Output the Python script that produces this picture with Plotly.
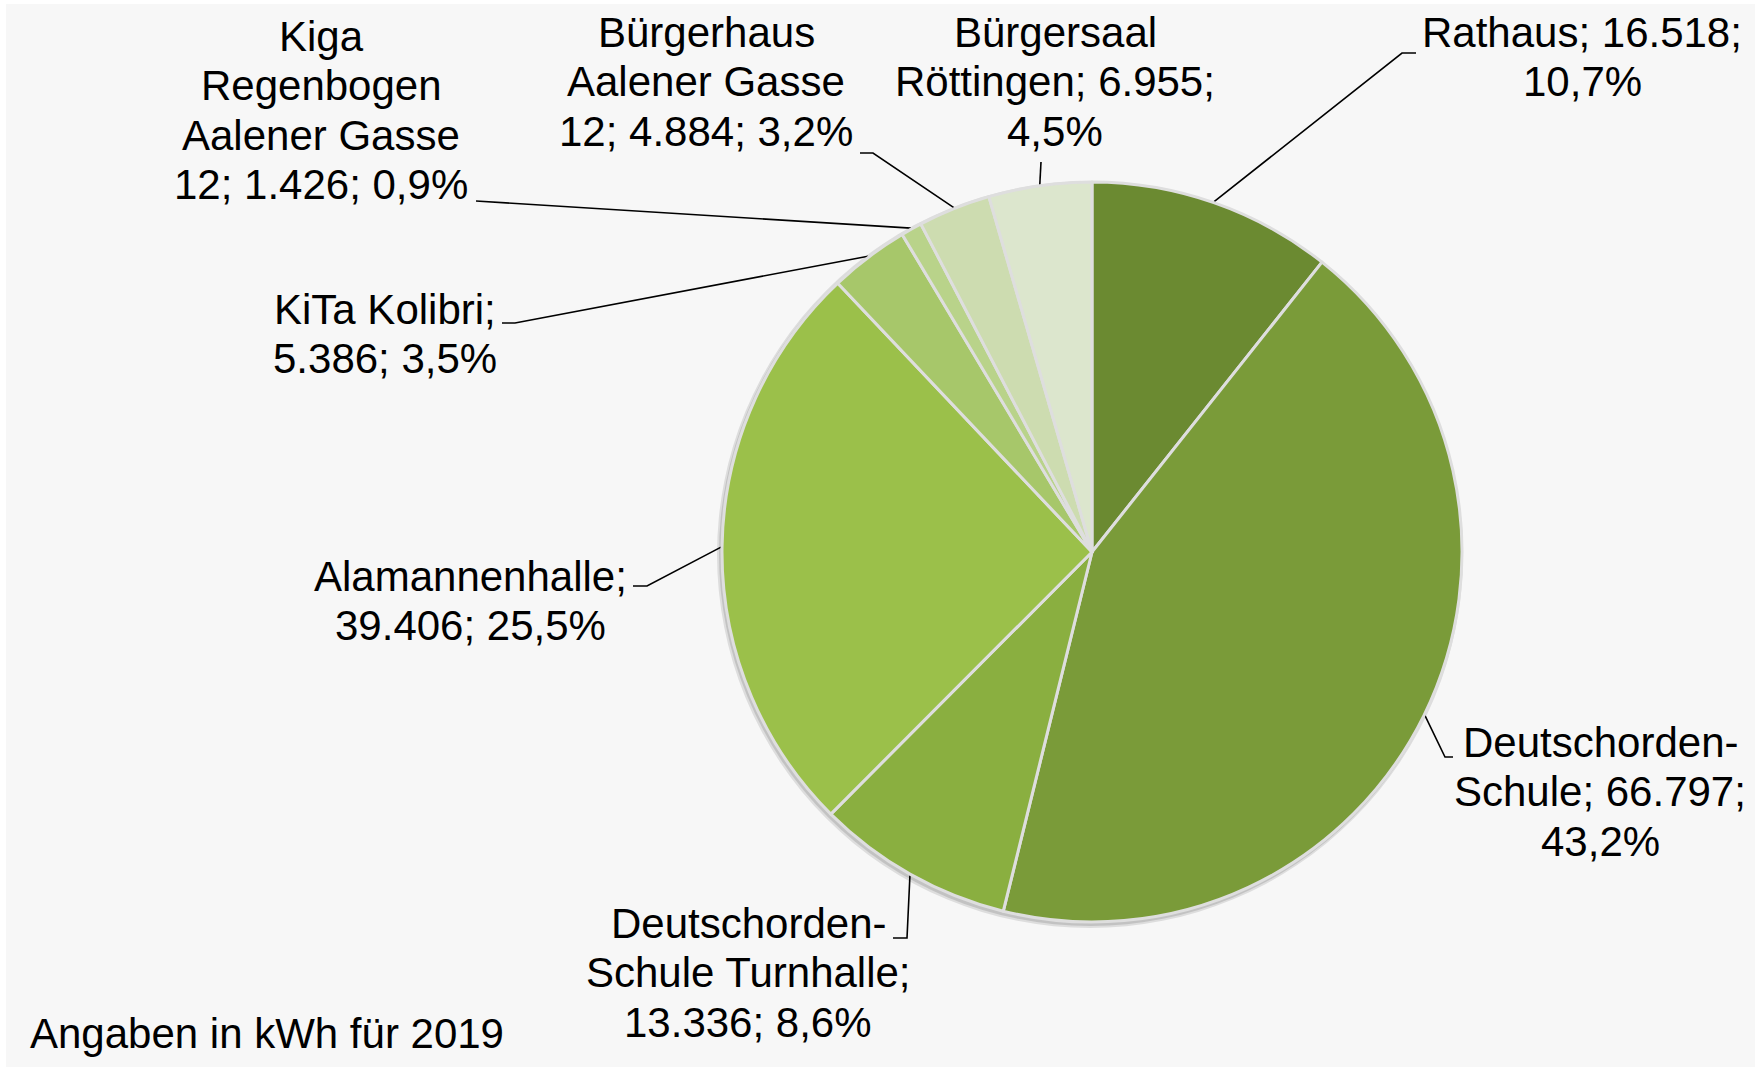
import math
import plotly.graph_objects as go

# ---------------- data ----------------
categories = ["Rathaus", "Deutschorden-Schule", "Deutschorden-Schule Turnhalle",
              "Alamannenhalle", "KiTa Kolibri", "Kiga Regenbogen Aalener Gasse 12",
              "Bürgerhaus Aalener Gasse 12", "Bürgersaal Röttingen"]
values = [16518, 66797, 13336, 39406, 5386, 1426, 4884, 6955]
# name as shown in the label (with its line breaks) and the separators used
label_names = ["Rathaus", "Deutschorden-\nSchule", "Deutschorden-\nSchule Turnhalle",
               "Alamannenhalle", "KiTa Kolibri", "Kiga\nRegenbogen\nAalener Gasse\n12",
               "Bürgerhaus\nAalener Gasse\n12", "Bürgersaal\nRöttingen"]
sep_name_value = [" ", " ", "\n", "\n", "\n", " ", " ", " "]
sep_value_pct = ["\n", "\n", " ", " ", " ", " ", " ", "\n"]
colors = ["#6b8a31", "#7a9b39", "#8aaf40", "#9bc04a", "#a7c76a", "#b9d38a",
          "#cddcb0", "#dce6cd"]
footer_text = "Angaben in kWh für 2019"

# ---------------- layout constants (pixels) ----------------
W, H = 1755, 1067
CX, CY, R = 1092, 552, 370
FONT = "Liberation Sans, Arial, sans-serif"
FS = 42
LINE_H = 49.5
label_pos = [(1582, 32), (1600, 742), (748, 923), (470, 576),
             (385, 309), (321, 36), (706, 32), (1055, 32)]
leader_tail = [[(1402, 53), (1416, 53)],
               [(1445, 757), (1453, 757)],
               [(907, 938), (893, 938)],
               [(647, 586), (633, 586)],
               [(515, 323), (502, 323)],
               [(487, 201), (476, 201)],
               [(873, 153), (860, 153)],
               [(1041, 162)]]


def de_int(v):
    return f"{v:,}".replace(",", ".")


def de_pct(p):
    return f"{p:.1f}".replace(".", ",") + "%"


total = sum(values)
fig = go.Figure()

# background panel (image has a thin white strip at top/left) + soft pie shadow
shapes = [dict(type="rect", xref="x", yref="y", x0=6, x1=W, y0=4, y1=H,
               fillcolor="#f7f7f7", line=dict(width=0), layer="below"),
          dict(type="circle", xref="x", yref="y", x0=CX - R - 5, x1=CX + R + 1,
               y0=CY - R - 1, y1=CY + R + 6, fillcolor="rgba(0,0,0,0.10)",
               line=dict(width=0), layer="below"),
          dict(type="circle", xref="x", yref="y", x0=CX - R - 3, x1=CX + R,
               y0=CY - R, y1=CY + R + 4, fillcolor="rgba(0,0,0,0.12)",
               line=dict(width=0), layer="below")]

fig.add_trace(go.Pie(
    labels=categories, values=values, sort=False, direction="clockwise",
    rotation=0, textinfo="none", hoverinfo="skip", showlegend=False,
    marker=dict(colors=colors, line=dict(color="#dedede", width=3)),
    domain=dict(x=[(CX - R) / W, (CX + R) / W],
                y=[(H - CY - R) / H, (H - CY + R) / H]),
))

annotations = []
cum = 0.0
for i, v in enumerate(values):
    frac = v / total
    mid = cum + frac / 2
    cum += frac
    ang = 2 * math.pi * mid
    sx = CX + (R + 1) * math.sin(ang)
    sy = CY - (R + 1) * math.cos(ang)
    pts = [(sx, sy)] + leader_tail[i]
    fig.add_trace(go.Scatter(
        x=[p[0] for p in pts], y=[p[1] for p in pts], mode="lines",
        line=dict(color="black", width=1.6), hoverinfo="skip",
        showlegend=False, xaxis="x", yaxis="y"))

    text = (label_names[i] + ";" + sep_name_value[i] + de_int(v) + ";"
            + sep_value_pct[i] + de_pct(frac * 100))
    lines = text.split("\n")
    lx, ly = label_pos[i]
    for k, ln in enumerate(lines):
        annotations.append(dict(
            x=lx, y=ly + k * LINE_H, xref="x", yref="y", text=ln,
            showarrow=False, xanchor="center", yanchor="middle",
            font=dict(family=FONT, size=FS, color="black")))

annotations.append(dict(
    x=28, y=1033, xref="x", yref="y", text=footer_text, showarrow=False,
    xanchor="left", yanchor="middle",
    font=dict(family=FONT, size=FS, color="black")))

fig.update_layout(
    width=W, height=H, margin=dict(l=0, r=0, t=0, b=0, pad=0),
    paper_bgcolor="white", plot_bgcolor="rgba(0,0,0,0)",
    xaxis=dict(range=[0, W], visible=False, fixedrange=True, domain=[0, 1]),
    yaxis=dict(range=[H, 0], visible=False, fixedrange=True, domain=[0, 1]),
    annotations=annotations, shapes=shapes, hovermode=False,
)

fig.write_html("out.html", config={"displayModeBar": False},
               post_script="document.body.style.margin='0';document.body.style.overflow='hidden';")
